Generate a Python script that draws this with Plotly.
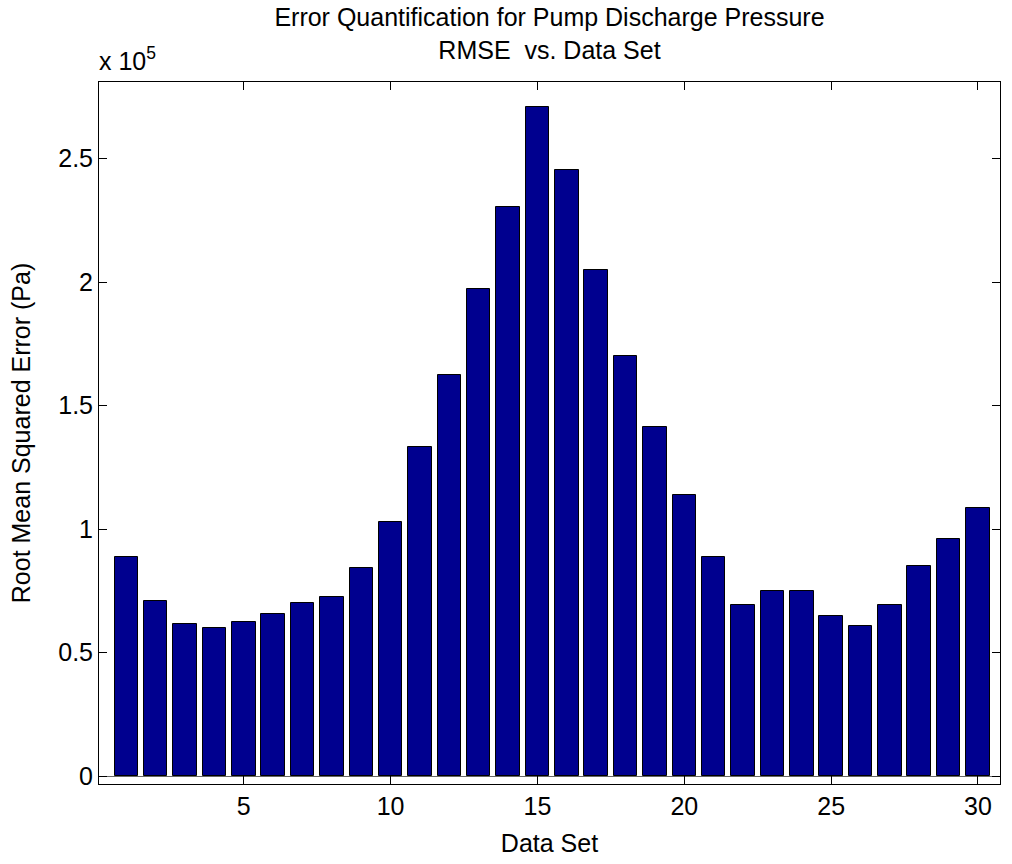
import plotly.graph_objects as go

data_set = list(range(1, 31))
rmse_pa = [0.886e5, 0.708e5, 0.614e5, 0.598e5, 0.622e5, 0.656e5, 0.699e5, 0.725e5, 0.843e5, 1.028e5,
           1.333e5, 1.622e5, 1.971e5, 2.302e5, 2.710e5, 2.455e5, 2.047e5, 1.700e5, 1.413e5, 1.140e5,
           0.886e5, 0.691e5, 0.749e5, 0.749e5, 0.648e5, 0.606e5, 0.691e5, 0.851e5, 0.961e5, 1.087e5]

x_tick_vals = [5, 10, 15, 20, 25, 30]
y_tick_vals = [0, 0.5e5, 1.0e5, 1.5e5, 2.0e5, 2.5e5]
y_tick_text = ["0", "0.5", "1", "1.5", "2", "2.5"]

FONT = "Liberation Sans, Arial, sans-serif"
FS = 25
f = dict(family=FONT, size=FS, color="black")

fig = go.Figure()
fig.add_trace(go.Bar(
    x=data_set, y=rmse_pa, width=0.8,
    marker=dict(color="#00008F", line=dict(color="black", width=1)),
))

fig.update_layout(
    width=1012, height=864,
    margin=dict(l=99, r=11, t=82, b=77),
    paper_bgcolor="white", plot_bgcolor="white",
    font=f,
    showlegend=False,
    bargap=0,
    title=dict(
        text="Error Quantification for Pump Discharge Pressure<br>RMSE&nbsp; vs. Data Set",
        x=0.5, xref="paper", xanchor="center",
        y=1, yref="paper", yanchor="bottom", pad=dict(b=56),
        font=f,
    ),
    xaxis=dict(
        range=[0.07, 30.75], tickvals=x_tick_vals, tickfont=f,
        ticks="inside", ticklen=8, tickcolor="black", tickwidth=1,
        showline=True, linecolor="black", linewidth=1, mirror="ticks",
        showgrid=False, zeroline=False,
        title=dict(text="Data Set", standoff=15, font=f),
    ),
    yaxis=dict(
        range=[-0.032e5, 2.81e5], tickvals=y_tick_vals, ticktext=y_tick_text, tickfont=f,
        ticks="inside", ticklen=8, tickcolor="black", tickwidth=1,
        showline=True, linecolor="black", linewidth=1, mirror="ticks",
        showgrid=False, zeroline=True, zerolinecolor="#666666", zerolinewidth=1,
        title=dict(text="Root Mean Squared Error (Pa)", standoff=20, font=f),
    ),
    annotations=[dict(
        text="x 10<sup>5</sup>", xref="paper", yref="paper",
        x=0, y=1, xanchor="left", yanchor="bottom", yshift=5, xshift=-2,
        showarrow=False, font=f,
    )],
)

fig.write_html("out.html")
